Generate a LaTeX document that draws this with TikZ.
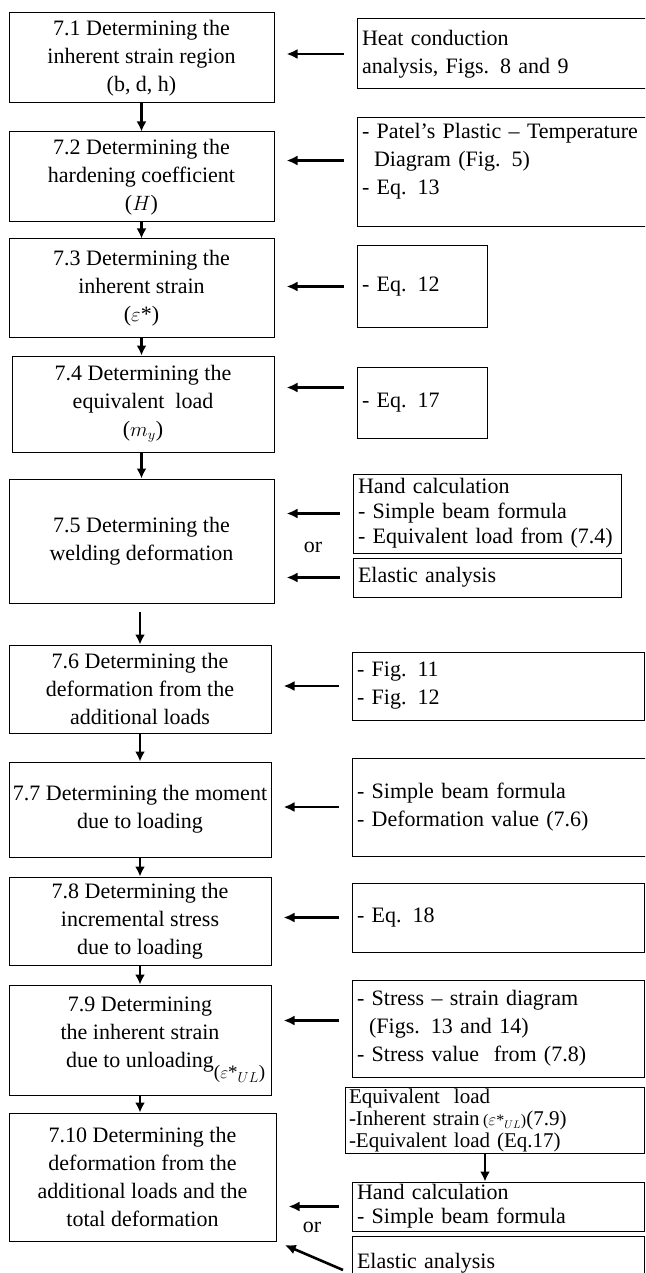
\documentclass[tikz,border=0pt]{standalone}
\usepackage{fontspec}
\setmainfont{Liberation Serif}
\usetikzlibrary{arrows.meta}
\usetikzlibrary{calc}

\begin{document}
\begin{tikzpicture}[
	x=1pt, y=-1pt,
  > = {Latex[length=11pt,width=10pt]},
  every node/.style = {font=\fontsize{22}{28}\selectfont},
  stepbox/.style = {draw,line width=1pt,align=center,inner sep=0pt},
  srcbox/.style = {draw,line width=1pt,align=left,inner xsep=5pt,inner ysep=0pt},
  feed/.style = {->,line width=2.6pt,shorten <=13pt,shorten >=12pt},
  down/.style = {->,line width=2.2pt,> = {Latex[length=10pt,width=10pt]}}
  ]
	\clip (0,0) rectangle (645,1273);

	% steps
	\node[stepbox, minimum width=265pt, minimum height=90pt] (s71) at (141.5,58) {7.1 Determining the\\inherent strain region\\(b, d, h)};
	\node[stepbox, minimum width=265pt, minimum height=90pt] (s72) at (141.5,177) {7.2 Determining the\\hardening coefficient\\($H$)};
	\node[stepbox, minimum width=265pt, minimum height=98pt] (s73) at (141.5,288) {7.3 Determining the\\inherent strain\\($\varepsilon$*)};
	\node[stepbox, minimum width=262pt, minimum height=96pt] (s74) at (143,404) {7.4 Determining the\\equivalent\ \ load\\($m_y$)};
	\node[stepbox, minimum width=265pt, minimum height=124pt] (s75) at (141.5,541) {7.5 Determining the\\welding deformation};
	\node[stepbox, minimum width=262pt, minimum height=88pt] (s76) at (140,689) {7.6 Determining the\\deformation from the\\additional loads};
	\node[stepbox, minimum width=262pt, minimum height=95pt] (s77) at (140,809.5) {7.7 Determining the moment\\due to loading};
	\node[stepbox, minimum width=262pt, minimum height=88pt] (s78) at (140,921) {7.8 Determining the\\incremental stress\\due to loading};
	\node[stepbox, minimum width=262pt, minimum height=110pt] (s79) at (140,1040) {7.9 Determining\\the inherent strain\\due to unloading\rlap{\raisebox{-1.1ex}{\fontsize{19}{19}\selectfont($\varepsilon$*$_{UL}$)}}};
	\node[stepbox, minimum width=267pt, minimum height=128pt] (s710) at (142.5,1177) {7.10 Determining the\\deformation from the\\additional loads and the\\total deformation};

	% sources
	\node[srcbox, text width=285pt, minimum height=70pt] (heat) at (504.5,54) {Heat conduction\\analysis, Figs. 8 and 9};
	\node[srcbox, text width=285pt, minimum height=109pt] (patel) at (504.5,172.5) {- Patel’s Plastic -- Temperature\\\hspace*{0.55em}Diagram (Fig. 5)\\- Eq. 13\\\mbox{}};
	\node[srcbox, text width=120pt, minimum height=81pt] (eq12) at (422,286.5) {- Eq. 12};
	\node[srcbox, text width=120pt, minimum height=71pt] (eq17) at (422,402.5) {- Eq. 17};
	\node[srcbox, text width=258pt, minimum height=79pt, font=\fontsize{22}{25}\selectfont] (hand1) at (487,513.5) {Hand calculation\\- Simple beam formula\\- Equivalent load from (7.4)};
	\node[srcbox, text width=258pt, minimum height=39pt] (elastic1) at (487,577.5) {Elastic analysis};
	\node[srcbox, text width=282pt, minimum height=68pt] (fig11) at (498,686) {- Fig. 11\\- Fig. 12};
	\node[srcbox, text width=290pt, minimum height=98pt] (beam) at (502,807) {- Simple beam formula\\- Deformation value (7.6)};
	\node[srcbox, text width=282pt, minimum height=69pt] (eq18) at (498,917.5) {- Eq. 18};
	\node[srcbox, text width=282pt, minimum height=97pt] (stress) at (498,1028.5) {- Stress -- strain diagram\\\hspace*{0.55em}(Figs. 13 and 14)\\- Stress value\ \ from (7.8)};
	\node[srcbox, text width=291pt, minimum height=66pt, inner xsep=4pt, font=\fontsize{21}{22}\selectfont] (eqload) at (494.5,1120.5) {Equivalent\ \ load\\-Inherent strain\,{\fontsize{16}{16}\selectfont($\varepsilon$*$_{UL}$)}(7.9)\\-Equivalent load (Eq.17)};
	\node[srcbox, text width=282pt, minimum height=49pt, font=\fontsize{22}{24}\selectfont] (hand2) at (498,1206.5) {Hand calculation\\- Simple beam formula};
	\node[srcbox, text width=282pt, minimum height=54pt] (elastic2) at (498,1263) {Elastic analysis};

	\node (or1) at (313,547) {or};
	\node (or2) at (312,1227) {or};

	% flow down the steps
	\coordinate (drop) at (140,612);
	\draw[down] (s71.south) -- (s71.south |- s72.north);
	\draw[down] (s72.south) -- (s72.south |- s73.north);
	\draw[down] (s73.south) -- (s73.south |- s74.north);
	\draw[down] (s74.south -| s73.south) -- (s73.south |- s75.north);
	\draw[down] (drop) -- (drop |- s76.north);
	\draw[down] (s76.south) -- (s76.south |- s77.north);
	\draw[down] (s77.south) -- (s77.south |- s78.north);
	\draw[down] (s78.south) -- (s78.south |- s79.north);
	\draw[down] (s79.south) -- (s79.south |- s710.north);
	\draw[down] ([xshift=-9.5pt]eqload.south) -- ([xshift=-9.5pt]eqload.south |- hand2.north);

	% inputs
	\draw[feed] (heat.west) -- (heat.west -| s71.east);
	\draw[feed] ([yshift=12pt]patel.west) -- ([yshift=12pt]patel.west -| s72.east);
	\draw[feed] (eq12.west) -- (eq12.west -| s73.east);
	\draw[feed] ([yshift=15pt]eq17.west) -- ([yshift=15pt]eq17.west -| s74.east);
	\draw[feed] (hand1.west) -- (hand1.west -| s75.east);
	\draw[feed] (elastic1.west) -- (elastic1.west -| s75.east);
	\draw[feed] (fig11.west) -- (fig11.west -| s76.east);
	\draw[feed] (beam.west) -- (beam.west -| s77.east);
	\draw[feed] (eq18.west) -- (eq18.west -| s78.east);
	\draw[feed] ([yshift=8pt]stress.west) -- ([yshift=8pt]stress.west -| s79.east);
	\draw[feed] (hand2.west) -- (hand2.west -| s710.east);
	\coordinate (tail) at (343,1270);
	\draw[feed, shorten <=0pt, shorten >=9pt] (tail) -- (s710.south east);
\end{tikzpicture}
\end{document}
